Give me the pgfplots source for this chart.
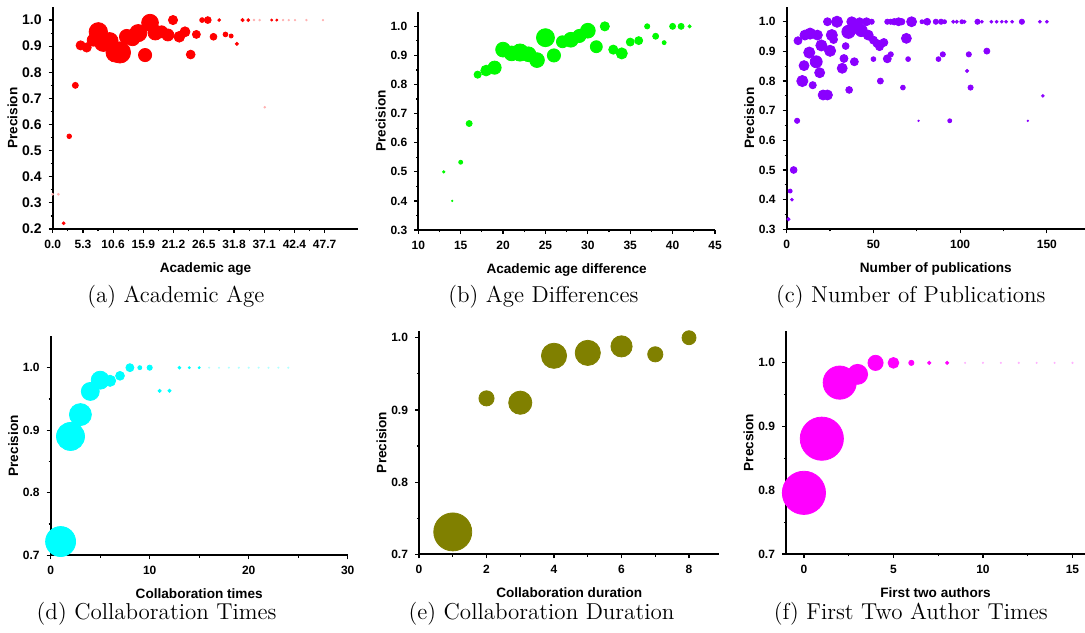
\documentclass[border=0pt]{standalone}
\usepackage{fontspec}
\setsansfont{Liberation Sans}
\usepackage{pgfplots}
\pgfplotsset{compat=1.18}

\definecolor{cred}{RGB}{255,0,0}
\definecolor{cgreen}{RGB}{0,250,0}
\definecolor{cpurple}{RGB}{138,0,255}
\definecolor{ccyan}{RGB}{0,255,255}
\definecolor{colive}{RGB}{128,128,0}
\definecolor{cmag}{RGB}{255,0,255}

\pgfplotsset{
  panel/.style={
    scale only axis, anchor=south west,
    axis lines=left, axis line style={-, line width=0.9pt},
    tick align=outside, major tick length=2pt, minor tick length=1.1pt,
    every tick/.style={line width=0.6pt, black},
    minor x tick num=1, minor y tick num=1,
    xlabel style={font=\sffamily\bfseries\fontsize{6.8}{8}\selectfont},
    ylabel style={font=\sffamily\bfseries\fontsize{6.8}{8}\selectfont},
    ylabel shift=-4.5pt,
    ticklabel style={font=\sffamily\bfseries\fontsize{6}{7}\selectfont},
    /pgf/number format/assume math mode=true,
    yticklabel style={/pgf/number format/fixed, /pgf/number format/fixed zerofill, /pgf/number format/precision=1},
    ylabel={Precision},
  },
  bub/.style={scatter, only marks, mark=*,
    scatter/use mapped color={draw=#1, fill=#1},
    visualization depends on={\thisrow{r}\as\rr},
    scatter/@pre marker code/.append style={/tikz/mark size=\rr}},
}

\begin{document}
\begin{tikzpicture}
\useasboundingbox (0,0) rectangle (542.5pt,316pt);

% (a) academic age
\begin{axis}[panel, at={(26.35pt,201.5pt)}, width=152.8pt, height=111pt,
  xmin=0, xmax=53.6, ymin=0.2, ymax=1.05,
  xtick={0,5.3,10.6,15.9,21.2,26.5,31.8,37.1,42.4,47.7},
  xticklabel style={/pgf/number format/fixed, /pgf/number format/fixed zerofill, /pgf/number format/precision=1},
  yticklabel style={font=\sffamily\bfseries\fontsize{7}{8}\selectfont},
  ytick={0.2,0.3,...,1.0},
  xlabel={Academic age}]
\addplot[bub=cred!30] table {
x y r
0 0.333 0.45
1 0.333 0.45
35.3 1.0 0.4
36.3 1.0 0.4
37.2 0.666 0.4
40.4 1.0 0.35
41.4 1.0 0.35
42.5 1.0 0.35
44.5 1.0 0.35
47.4 1.0 0.35
};
\addplot[bub=cred] table {
x y r
1.93 0.222 0.7
2.9 0.555 1.15
3.97 0.75 1.5
4.9 0.903 2.3
5.96 0.895 2.3
7.1 0.923 3.0
8.0 0.955 4.6
8.9 0.915 4.6
10.0 0.92 4.2
11.0 0.875 4.7
11.8 0.876 5.3
13.0 0.936 3.7
14.0 0.93 3.7
15.0 0.95 4.3
16.2 0.866 3.3
17.07 0.99 4.2
18.0 0.952 3.7
19.1 0.955 3.0
20.2 0.943 3.0
21.1 1.0 2.3
22.2 0.936 2.7
23.2 0.955 2.5
24.2 0.868 2.2
25.2 0.945 2.0
26.2 1.0 1.2
27.2 1.0 1.7
28.2 0.936 1.7
29.2 1.0 0.7
30.3 0.945 1.2
31.3 0.939 1.0
32.3 0.909 0.8
33.3 1.0 0.8
34.3 1.0 0.7
38.4 1.0 0.5
39.3 1.0 0.5
};
\end{axis}

% (b) age differences
\begin{axis}[panel, at={(209.15pt,201pt)}, width=148.35pt, height=109.1pt,
  xmin=10, xmax=45, ymin=0.3, ymax=1.05,
  xtick={10,15,...,45}, ytick={0.3,0.4,...,1.0},
  xlabel={Academic age difference}]
\addplot[bub=cgreen] table {
x y r
13 0.5 0.6
14 0.4 0.35
15 0.533 1.0
16 0.666 1.5
17 0.834 1.8
18 0.848 2.7
19 0.858 3.3
20 0.92 3.7
21 0.907 3.7
22 0.91 4.3
23 0.904 3.7
24 0.884 3.7
25 0.961 4.5
26 0.9 3.3
27 0.947 3.0
28 0.954 3.7
29 0.967 3.3
30 0.985 3.7
31 0.93 3.0
32 1.0 2.3
33 0.92 2.3
34 0.907 2.8
35 0.946 2.0
36 0.951 2.0
37 1.0 1.3
38 0.966 1.5
39 0.944 1.0
40 1.0 1.5
41 1.0 1.5
42 1.0 0.8
};
\end{axis}

% (c) number of publications
\begin{axis}[panel, at={(393.35pt,201.35pt)}, width=149.15pt, height=111.2pt,
  xmin=0, xmax=172, ymin=0.3, ymax=1.05,
  xtick={0,50,100,150}, ytick={0.3,0.4,...,1.0},
  xlabel={Number of publications}]
\addplot[bub=cpurple] table {
x y r
1 0.334 0.8
2 0.429 1.0
3 0.4 0.7
4 0.5 1.7
6 0.666 1.3
6.5 0.936 2.0
9 0.8 2.8
10 0.852 2.5
13 0.896 2.8
15 0.786 1.8
17 0.865 3.0
19 0.828 2.5
10.5 0.955 2.5
13.5 0.96 2.8
17.7 0.955 2.5
20 0.92 2.8
25 0.902 2.8
26 0.955 2.8
21 0.753 2.5
23.5 0.753 2.5
23.5 1.0 2.0
29 1.0 2.8
27 0.94 2.0
32 0.843 2.5
33 0.876 2.0
34 0.918 1.7
36 0.77 1.7
39 0.865 2.0
35.6 0.966 3.3
37.5 1.0 2.5
39.4 0.983 3.3
42 1.0 2.0
43 0.97 3.0
46 1.0 2.0
47 0.955 2.5
49 1.0 1.3
50 0.938 2.0
52 0.927 2.0
53.5 0.916 2.0
56 0.93 2.0
50 0.874 1.2
54 0.8 1.5
58 0.875 2.0
60 0.89 1.3
58 1.0 1.3
60 1.0 1.3
62 1.0 1.6
64.5 1.0 2.0
66.3 1.0 1.6
67 0.778 1.2
69 0.944 2.5
70 0.874 1.2
72 1.0 2.5
76 0.666 0.35
78 1.0 1.0
81 1.0 1.7
86 1.0 1.3
87.5 0.874 1.2
89 1.0 1.3
90 0.89 1.3
91 1.0 1.0
94 0.666 1.0
96 1.0 0.8
98 1.0 0.8
101 1.0 1.0
102.5 1.0 0.8
104 0.834 0.8
105 0.89 1.3
106 0.778 1.3
110 1.0 1.3
112.5 1.0 0.7
115.4 0.901 1.5
118 1.0 0.7
121 1.0 0.7
124 1.0 0.7
126.5 1.0 0.7
130 1.0 0.7
135.6 1.0 1.3
139 0.666 0.35
146 1.0 0.7
147.7 0.75 0.7
150 1.0 0.7
};
\end{axis}

% (d) collaboration times
\begin{axis}[panel, at={(25.35pt,38.35pt)}, width=148.5pt, height=109.45pt,
  xmin=0, xmax=30, ymin=0.7, ymax=1.05,
  xtick={0,10,20,30}, ytick={0.7,0.8,0.9,1.0},
  xlabel={Collaboration times}]
\addplot[bub=ccyan!30] table {
x y r
16 1.0 0.3
17 1.0 0.3
18 1.0 0.3
19 1.0 0.3
20 1.0 0.3
21 1.0 0.3
22 1.0 0.3
23 1.0 0.3
24 1.0 0.3
};
\addplot[bub=ccyan] table {
x y r
1 0.722 7.5
2 0.89 7.0
3 0.925 5.5
4 0.962 4.5
5 0.98 4.5
6 0.979 2.8
7 0.987 2.2
8 1.0 2.0
9 1.0 1.0
10 1.0 1.3
11 0.963 0.8
12 0.963 0.8
13 1.0 0.7
14 1.0 0.5
15 1.0 0.5
};
\end{axis}

% (e) collaboration duration
\begin{axis}[panel, at={(209.5pt,38.85pt)}, width=150.2pt, height=111.9pt,
  xmin=0, xmax=8.9, ymin=0.7, ymax=1.01,
  xtick={0,2,4,6,8}, ytick={0.7,0.8,0.9,1.0},
  xlabel={Collaboration duration}]
\addplot[bub=colive] table {
x y r
1 0.731 9.5
2 0.916 3.8
3 0.91 5.8
4 0.975 6.3
5 0.979 6.3
6 0.988 5.3
7 0.977 3.8
8 1.0 3.5
};
\end{axis}

% (f) first two authors
\begin{axis}[panel, at={(393pt,39pt)}, width=149.5pt, height=111.5pt,
  xmin=-1, xmax=15.7, ymin=0.7, ymax=1.05,
  xtick={0,5,10,15}, ytick={0.7,0.8,0.9,1.0},
  xlabel={First two authors}, ylabel={Precsion}]
\addplot[bub=cmag!30] table {
x y r
9 1.0 0.3
10 1.0 0.3
11 1.0 0.3
12 1.0 0.3
13 1.0 0.3
14 1.0 0.3
15 1.0 0.3
};
\addplot[bub=cmag] table {
x y r
0 0.796 10.8
1 0.881 10.8
2 0.969 8.3
3 0.982 5.0
4 1.0 3.8
5 1.0 2.7
6 1.0 1.3
7 1.0 0.8
8 1.0 0.8
};
\end{axis}

\begin{scope}[every node/.style={anchor=base, font=\fontsize{11.5}{13}\selectfont}]
\node at (87.9pt,164.5pt) {(a) Academic Age};
\node at (271.7pt,164.5pt) {(b) Age Differences};
\node at (455.4pt,164.5pt) {(c) Number of Publications};
\node at (78.3pt,6.5pt) {(d) Collaboration Times};
\node at (270.75pt,6.5pt) {(e) Collaboration Duration};
\node at (455.4pt,6.5pt) {(f) First Two Author Times};
\end{scope}
\end{tikzpicture}
\end{document}
